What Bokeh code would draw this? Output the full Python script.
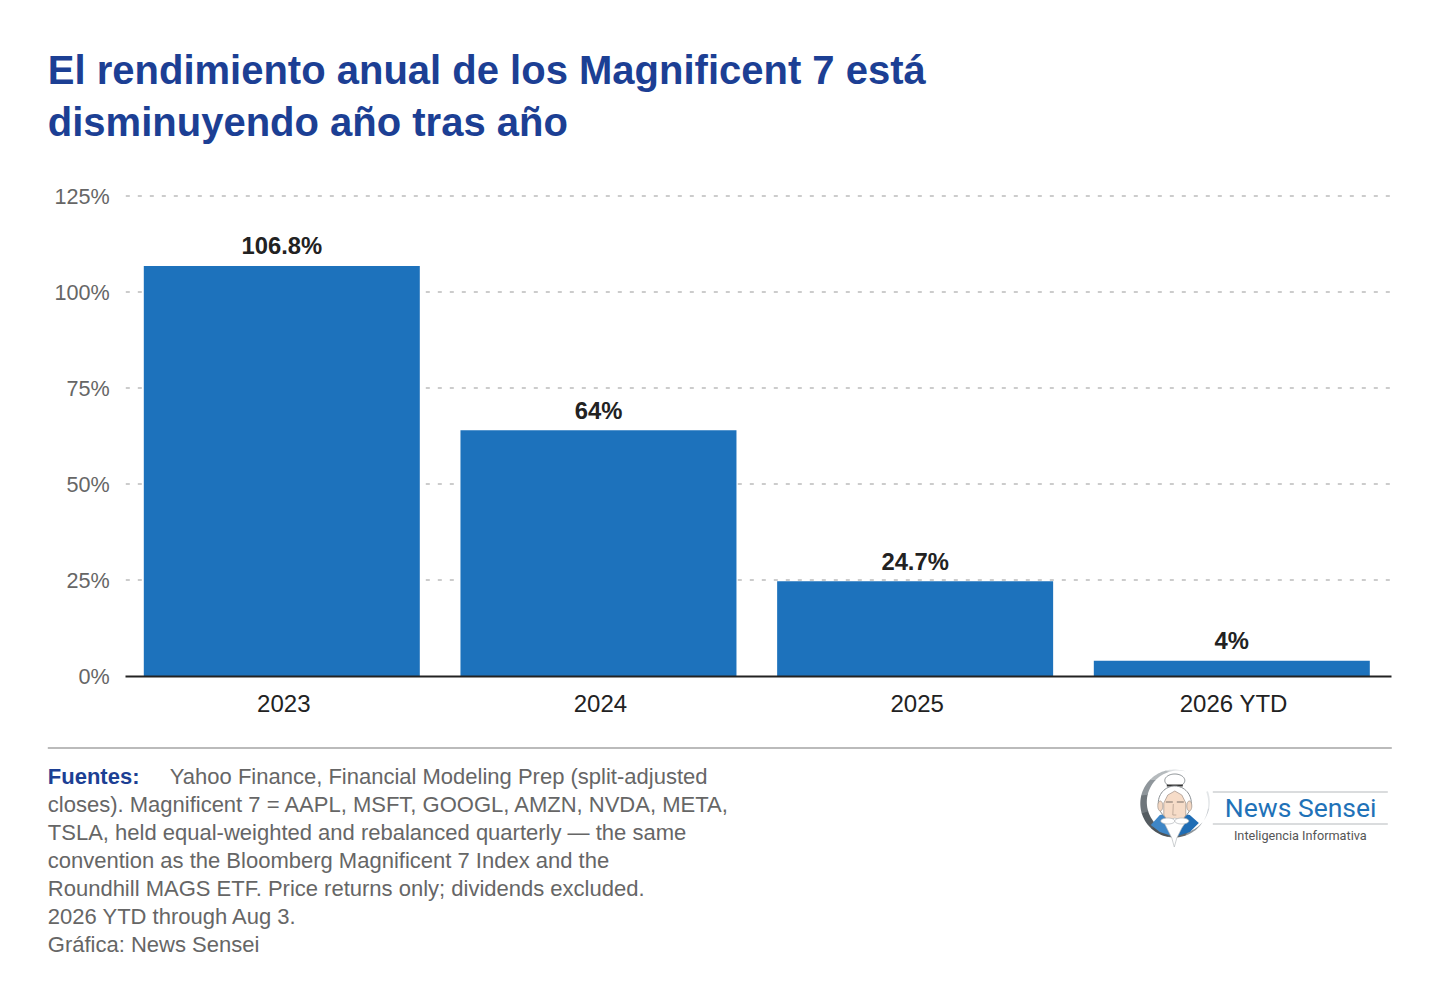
import numpy as np
from bokeh.plotting import figure
from bokeh.models import Range1d, LinearAxis, FixedTicker, ColumnDataSource
from bokeh.transform import dodge
from bokeh.core.properties import value
from bokeh.embed import file_html
from bokeh.resources import INLINE

# ---- data ----
categories = ["2023", "2024", "2025", "2026 YTD"]
returns_pct = [106.8, 64, 24.7, 4]
value_labels = ["106.8%", "64%", "24.7%", "4%"]
y_ticks = [0, 25, 50, 75, 100, 125]
y_tick_labels = ["0%", "25%", "50%", "75%", "100%", "125%"]

title_lines = ["El rendimiento anual de los Magnificent 7 está",
               "disminuyendo año tras año"]
note_head = "Fuentes:"
note_lines = ["Yahoo Finance, Financial Modeling Prep (split-adjusted",
              "closes). Magnificent 7 = AAPL, MSFT, GOOGL, AMZN, NVDA, META,",
              "TSLA, held equal-weighted and rebalanced quarterly — the same",
              "convention as the Bloomberg Magnificent 7 Index and the",
              "Roundhill MAGS ETF. Price returns only; dividends excluded.",
              "2026 YTD through Aug 3.",
              "Gráfica: News Sensei"]

# ---- layout constants (page pixels) ----
W, H = 1424, 968
PAGE_L, PAGE_T = 0.7, 0.5
STEP = 316.67          # px per category
TICK0 = 284.0          # page x of the first category label
BAR_SHIFT = -2 / STEP  # bars sit 2px left of their labels
ZERO_Y = 676.0
PX_PER_PCT = 3.84
PLOT_L, PLOT_R = 126.0, 1392.0

x_of = lambda px: (px - TICK0) / STEP
FONT = "Liberation Sans"

p = figure(
    width=W, height=H, output_backend="svg", toolbar_location=None,
    x_axis_type=None, y_axis_type=None,
    x_range=Range1d(x_of(PAGE_L), x_of(PAGE_L + W)),
    y_range=Range1d((ZERO_Y - (PAGE_T + H)) / PX_PER_PCT, (ZERO_Y - PAGE_T) / PX_PER_PCT),
    min_border=0, outline_line_color=None, background_fill_color="white",
    border_fill_color="white",
)
p.grid.visible = False
p.extra_x_ranges = {"page": Range1d(PAGE_L, PAGE_L + W)}
p.extra_y_ranges = {"page": Range1d(PAGE_T + H, PAGE_T)}
PG = dict(x_range_name="page", y_range_name="page")

# gridlines
p.segment(x0=[x_of(PLOT_L)] * 5, x1=[x_of(PLOT_R)] * 5, y0=y_ticks[1:], y1=y_ticks[1:],
          line_color="#cccccc", line_width=2, line_dash="4 8", level="underlay")

# bars
src = ColumnDataSource(dict(i=list(range(len(categories))), v=returns_pct, t=value_labels))
p.vbar(x=dodge("i", BAR_SHIFT), top="v", bottom=0, width=276 / STEP, source=src,
       fill_color="#1d72bc", line_color=None)
p.text(x=dodge("i", BAR_SHIFT), y="v", text="t", source=src, text_align="center",
       text_baseline="alphabetic", y_offset=-20, text_font=value(FONT),
       text_font_style="bold", text_font_size="23.8px", text_color="#222222")

# axes
xa = LinearAxis(fixed_location=0, ticker=FixedTicker(ticks=list(range(len(categories)))),
                major_label_overrides={i: c for i, c in enumerate(categories)},
                bounds=(x_of(PLOT_L), x_of(PLOT_R)), axis_line_color="#222222", axis_line_width=2,
                major_tick_line_color=None, minor_tick_line_color=None,
                major_label_standoff=8, major_label_text_font=FONT,
                major_label_text_font_size="24px", major_label_text_color="#222222")
p.add_layout(xa, "below")
ya = LinearAxis(fixed_location=x_of(PLOT_L), ticker=FixedTicker(ticks=y_ticks),
                major_label_overrides=dict(zip(y_ticks, y_tick_labels)),
                axis_line_color=None, major_tick_line_color=None, minor_tick_line_color=None,
                major_label_standoff=10, major_label_text_font=FONT,
                major_label_text_font_size="21.6px", major_label_text_color="#666666")
p.add_layout(ya, "left")

def put(x, y, s, size, color, style="normal", align="left", font=FONT):
    p.text(x=[x], y=[y], text=[s], text_font=value(font), text_font_size=size,
           text_font_style=style, text_color=color, text_align=align,
           text_baseline="alphabetic", **PG)

# title
for k, line in enumerate(title_lines):
    put(48, 70 + 52 * k, line, "40px", "#1c3f94", "bold")

# footer rule + notes
p.segment(x0=[48], x1=[1392], y0=[748], y1=[748], line_color="#bbbbbb", line_width=2, **PG)
put(48, 776, note_head, "22px", "#1c3f94", "bold")
put(170, 776, note_lines[0], "22px", "#666666")
for k, line in enumerate(note_lines[1:]):
    put(48, 804 + 28 * k, line, "22px", "#666666")

# logo: crescent ring
t = np.linspace(0, 2 * np.pi, 61)
cx, cy, R = 1174.5, 803.5, 34.0
cols = ["#e3e6e8", "#c6cbd0", "#8f969b", "#5f666b", "#4d5459", "#555c61", "#6f767b", "#8f969b", "#b5babd", "#dde0e2"]
edges = np.linspace(np.radians(-20), np.radians(285), len(cols) + 1)
for a0, a1, c in zip(edges[:-1], edges[1:], cols):
    a = np.linspace(a0, a1 + 0.02, 10)
    ox, oy = cx + R * np.cos(a), cy + R * np.sin(a)
    ix, iy = cx + 4.0 + (R - 2.5) * np.cos(a), cy - 1.5 + (R - 2.5) * np.sin(a)
    p.patch(np.r_[ox, ix[::-1]], np.r_[oy, iy[::-1]], fill_color=c, line_color=None, **PG)

def ell(x, y, rx, ry, fill, line=None, lw=1):
    p.patch(x + rx * np.cos(t), y + ry * np.sin(t), fill_color=fill, line_color=line, line_width=lw, **PG)

def poly(xs, ys, fill, line=None, lw=1):
    p.patch(xs, ys, fill_color=fill, line_color=line, line_width=lw, **PG)

# shoulders
poly([1151, 1160, 1170, 1174, 1172, 1160], [825, 815, 813, 835, 836, 832], "#3f86c6")
poly([1199, 1190, 1180, 1176, 1178, 1190], [823, 815, 813, 835, 836, 832], "#1f6db5")
# hat
ell(1175, 780.5, 10, 6.5, "white", "#8a8f93", 1)
poly([1167, 1183, 1183, 1167], [784.5, 784.5, 786.5, 786.5], "#333333")
# hair and face
ell(1175, 803, 16.5, 17, "white", "#8a8f93", 1)
ell(1160.5, 806, 2.5, 5, "#f3d7c2", "#9a8f88", 0.7)
ell(1189.5, 806, 2.5, 5, "#f3d7c2", "#9a8f88", 0.7)
poly([1164, 1168, 1175, 1182, 1186, 1186, 1181, 1169, 1164],
     [803, 795, 791, 795, 803, 815, 823, 823, 815], "#f6dcc8", "#a09088", 0.7)
p.line([1166, 1173], [802, 802], line_color="#8d8078", line_width=1.2, **PG)
p.line([1177, 1184], [802, 802], line_color="#8d8078", line_width=1.2, **PG)
p.line([1173.5, 1173, 1176.5], [804, 815, 815], line_color="#b59f90", line_width=0.8, **PG)
# beard and moustache
poly([1164, 1175, 1186, 1182, 1177, 1174.5, 1172, 1167], [822, 818, 822, 828, 838, 847, 838, 828], "white", "#b8bcbf", 0.7)
ell(1168, 821, 7, 3, "white", "#a9aeb1", 0.7)
ell(1182, 821, 7, 3, "white", "#a9aeb1", 0.7)

# logo wordmark
p.segment(x0=[1213, 1213], x1=[1388, 1388], y0=[792, 824], y1=[792, 824],
          line_color="#b5b9bc", line_width=1, **PG)
put(1225, 807, "News Sensei", "26.5px", "#1f72b8", font="Roboto")
put(1300.5, 835.5, "Inteligencia Informativa", "12.7px", "#555555", align="center", font="Roboto")

open("out.html", "w").write(file_html(p, INLINE))
